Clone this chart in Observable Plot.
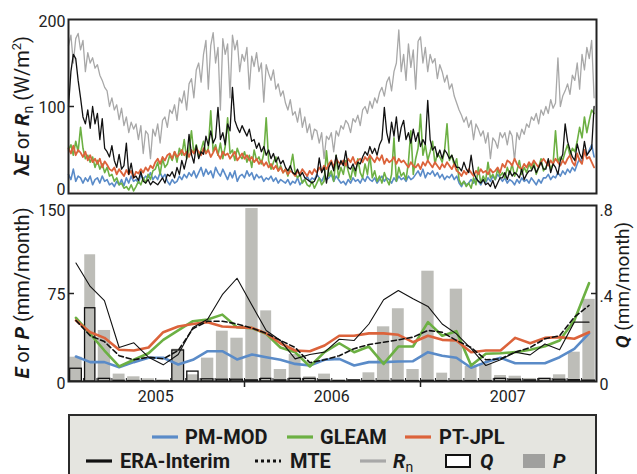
<!DOCTYPE html>
<html><head><meta charset="utf-8">
<script src="https://cdn.jsdelivr.net/npm/d3@7"></script>
<script src="https://cdn.jsdelivr.net/npm/@observablehq/plot@0.6"></script>
<style>
body{margin:0;background:#fff;}
#wrap{position:relative;width:637px;height:474px;overflow:hidden;font-family:Roboto,'Noto Sans',sans-serif;}
#wrap svg.chart{position:absolute;left:0;}
#legend{position:absolute;left:68px;top:414px;width:529px;height:80px;box-sizing:border-box;border:2px solid #2b2b2b;background:#e5e5e0;font-family:Roboto,'Noto Sans',sans-serif;font-weight:bold;font-size:20px;color:#1a1a1a;}
.item{position:absolute;height:24px;display:flex;align-items:center;white-space:nowrap;}
.it{font-style:italic;}
sub{font-size:14px;font-weight:normal;vertical-align:-4px;line-height:0;}
</style></head><body><div id="wrap"></div>
<script>
// ---------- top panel: 5-day series (W/m2), starting 2005-01-01 ----------
const rnDaily = [
170,182,150,178,184,165,176,140,162,150,156,144,148,136,130,122,118,100,
110,96,102,85,98,78,88,70,82,74,80,62,78,46,72,68,40,74,
66,80,58,84,88,76,96,92,102,84,110,104,118,96,126,132,110,142,
150,128,160,176,120,170,185,150,168,96,178,160,172,110,182,165,176,140,
160,152,168,120,158,146,162,140,150,105,148,138,130,142,120,126,112,118,
104,96,108,90,94,82,98,76,88,70,80,62,74,72,58,70,40,66,
62,70,48,72,66,78,74,84,80,70,86,82,90,78,96,100,92,106,
98,110,104,116,122,112,128,134,118,140,150,188,140,160,130,172,145,165,
120,175,180,150,168,140,160,150,155,132,148,140,128,136,120,126,112,104,
96,90,82,88,76,84,62,80,74,66,72,58,70,40,64,60,52,70,
64,70,56,72,66,38,70,62,74,68,80,76,88,84,92,80,96,90,
100,92,108,98,104,156,100,112,118,126,114,136,130,150,120,160,142,168,
155,176,110];
const eraDaily = [
100,140,160,155,130,110,88,80,96,75,100,80,92,62,86,52,48,42,
55,38,30,45,28,32,58,22,35,18,20,15,25,14,12,16,10,14,
12,10,14,18,12,22,20,25,18,30,22,38,28,40,68,45,35,55,
40,48,45,66,55,72,58,64,99,62,70,56,80,72,122,84,76,70,
78,72,66,74,60,62,52,58,48,54,44,50,40,46,36,42,34,38,
30,26,32,24,22,28,20,24,18,16,14,12,14,20,41,24,30,12,
30,36,26,44,28,38,32,49,30,28,34,26,36,34,42,48,44,54,
46,52,44,56,62,99,70,58,82,66,88,60,76,84,62,70,58,74,
60,70,54,62,56,107,62,50,54,42,50,40,50,46,40,44,36,30,
30,26,36,28,24,44,24,18,14,12,16,10,12,8,15,6,12,18,
18,24,16,26,20,24,22,18,28,16,22,26,26,32,24,30,36,28,
28,40,24,34,30,22,38,45,80,60,50,42,38,57,46,40,60,44,
48,52,100];
const ptjplDaily = [
52,46,55,44,50,47,42,48,38,44,36,40,34,40,30,37,33,28,
26,30,22,28,24,20,27,22,26,18,25,23,28,24,30,26,32,29,
36,40,34,42,38,44,46,40,48,42,45,50,44,48,42,50,46,52,
48,44,52,46,50,42,47,53,45,40,48,44,46,40,44,48,38,42,
46,40,44,38,42,36,40,34,38,32,36,30,34,28,32,26,30,24,
28,22,26,24,20,26,22,28,24,20,26,22,28,24,30,26,32,28,
34,38,30,40,36,34,38,32,40,36,42,34,38,40,36,42,38,44,
40,36,42,38,44,34,40,36,38,42,34,40,36,38,34,30,36,32,
30,34,28,36,32,38,34,30,36,32,28,34,30,36,32,28,34,26,
24,20,26,22,28,24,20,26,22,28,24,26,22,28,24,26,30,24,
34,30,38,36,32,40,34,30,28,34,30,36,32,38,34,30,36,40,
36,32,38,34,40,36,32,38,34,40,44,36,32,46,38,34,50,40,
42,36,30];
const pmmodDaily = [
22,16,28,14,20,18,12,18,14,20,10,16,18,12,20,14,16,10,
12,8,14,10,16,9,18,12,20,14,16,12,22,16,20,18,24,16,
20,16,24,18,22,14,10,16,12,14,20,16,22,18,24,20,26,18,
24,30,20,28,22,26,18,30,24,20,28,22,16,24,18,26,14,20,
22,18,26,20,24,16,22,18,20,14,18,16,20,14,18,12,16,14,
12,16,10,14,12,18,10,14,16,20,14,18,16,22,18,14,20,16,
18,22,14,20,16,12,14,10,16,12,18,14,16,12,18,14,20,16,
14,18,12,16,20,14,18,16,12,18,14,20,16,18,14,20,16,18,
22,26,20,28,18,24,22,26,20,24,18,22,16,20,18,22,16,20,
12,8,14,10,12,16,12,18,14,10,16,12,18,14,20,16,22,18,
14,18,12,16,14,10,16,12,18,14,16,12,18,14,10,16,12,18,
18,22,16,20,18,24,20,26,22,28,24,30,26,34,40,36,48,44,
50,56,42];
const gleamDaily = [
50,56,44,60,48,76,52,40,44,36,42,30,38,28,34,24,30,20,
22,14,18,10,12,6,8,4,10,3,8,14,10,18,12,22,16,26,
28,36,22,40,30,34,44,38,48,36,52,44,62,40,50,72,46,56,
42,50,60,46,52,95,48,56,44,58,40,54,87,46,50,38,52,44,
40,48,36,44,30,50,38,42,34,46,87,38,28,36,42,26,32,24,
28,20,30,45,24,18,22,12,16,10,8,14,6,12,18,10,14,49,
20,26,14,44,18,30,22,38,26,16,30,20,40,24,18,34,22,44,
18,26,14,20,12,24,16,10,22,64,14,30,20,24,16,36,72,22,
40,52,91,44,56,38,48,60,34,46,42,36,50,80,38,44,32,40,
16,10,14,8,12,6,18,10,30,12,20,14,36,18,22,16,28,20,
24,18,30,22,34,20,26,38,22,30,24,34,28,36,22,30,40,26,
30,38,28,34,72,36,42,38,48,56,44,52,48,60,76,64,88,70,
84,96,92];

// ---------- bottom panel: monthly (mm/month), Jan 2005 - Dec 2007 ----------
const precipP = [20.7,108,43.5,6.3,4,2.3,1.4,27.6,5.7,19.9,42.9,36.9,
  147.4,60.2,10.2,23,4,6.3,1.4,1.4,7.4,46.6,62,10.2,
  94,7.1,78.7,12.8,15,5.1,4.5,2.6,2.5,5.7,25,70];
const runoffQ = [0.058,0.333,0.012,0.003,0.002,0.001,0.001,0.141,0.045,0.010,0.008,0.008,
  0.005,0.012,0.005,0.012,0.012,0.005,0.002,0.005,0.002,0.002,0.003,0.002,
  0.003,0.002,0.002,0.002,0.002,0.012,0.008,0.005,0.012,0.008,0.006,0.004];
const pmmodM = [21.3,16.5,16.5,12.2,16.5,20.2,20.2,14.5,18.5,25.8,25.8,18.8,
  23,20.7,18.5,15,13.6,18.5,19.3,13.6,16.5,16.5,17,17.3,
  25,22,20.2,11.7,16.5,20.2,15.6,15.6,15.6,20.7,27.8,41];
const gleamM = [54.3,40.6,26.4,12.8,18.5,24.1,35.5,43.5,51.4,52.8,57,46.3,
  45.5,40.6,29,25,12.8,25,32.6,25,29.8,15,29.8,29.8,
  50.6,39,42.9,13.6,23.6,24.1,25,27,30,35,52,83.8];
const ptjplM = [52,42,37.2,27,26.4,29,42,46.9,49,50.6,46.9,46.3,
  45.7,41,32.6,26.4,25.8,30.7,39,39,41,41,39.8,33.5,
  39,35.5,35,25,26.4,26.4,37.2,32.6,37.2,37.8,36.4,42];
const eraM = [101,81,69,29,33,20.7,14.2,23,46,53,74,88,
  65,43.5,35,19.3,23,25,36,35,49,69.6,77.6,70.5,
  64,49,40.6,28,13.6,18.5,25,22.7,32,27,50.6,50.6];
const mteM = [52,39,34,22,18.5,20.7,19.3,26.4,45,51.4,51.4,49,
  45.5,41,35,29,16,18.5,22,28,31.5,33.5,35.5,37.8,
  43.5,42,35,29,18.5,19.3,25,29,36.4,39,54.8,64.8];
const yearLabels = [2005, 2006, 2007];
const topTicks = [0, 100, 200];
const botTicks = [0, 75, 150];

// ---------- build ----------
const C = {pm:"#5a8bc8", gl:"#6cb043", pt:"#dc633b", rn:"#a8a8a8", era:"#111", bar:"#bdbdb8"};
const FONT = "Roboto, 'Noto Sans', sans-serif";
const t0 = Date.UTC(2005,0,1);
const xDomain = [new Date(t0), new Date(Date.UTC(2008,0,1))];
const toDaily = arr => arr.map((v,i) => ({date: new Date(t0 + i*5*864e5), v}));
const monthly = d3.range(36).map(i => ({
  start: new Date(Date.UTC(2005,i,1)),
  end: new Date(Date.UTC(2005,i+1,1)),
  mid: new Date((Date.UTC(2005,i,1)+Date.UTC(2005,i+1,1))/2),
  P: precipP[i], Q: runoffQ[i], pm: pmmodM[i], gl: gleamM[i], pt: ptjplM[i], era: eraM[i], mte: mteM[i]
}));
const QK = 150/0.8;
const qFmt = d => { const q = d/QK; return q === 0 ? "0" : d3.format(".1f")(q).replace(/^0/, ""); };
const yLabels = (ticks, dys, opts={}) => ticks.map((t,k) =>
  Plot.axisY({ticks:[t], tickSize:0, tickPadding:3, label:null, fontSize:16, dy:dys[k], ...opts}));

const wrap = document.getElementById("wrap");

const topChart = Plot.plot({
  width: 637, height: 198,
  marginLeft: 68, marginRight: 41, marginTop: 19, marginBottom: 5,
  style: {fontFamily: FONT, fontSize: "16px", color: "#222", background: "transparent", overflow: "visible"},
  x: {type: "utc", domain: xDomain, axis: null, label: null},
  y: {domain: [0,200], axis: null, label: null},
  marks: [
    Plot.line(toDaily(rnDaily), {x:"date", y:"v", stroke:C.rn, strokeWidth:1.3}),
    Plot.line(toDaily(pmmodDaily), {x:"date", y:"v", stroke:C.pm, strokeWidth:1.6}),
    Plot.line(toDaily(gleamDaily), {x:"date", y:"v", stroke:C.gl, strokeWidth:1.6}),
    Plot.line(toDaily(ptjplDaily), {x:"date", y:"v", stroke:C.pt, strokeWidth:1.8}),
    Plot.line(toDaily(eraDaily), {x:"date", y:"v", stroke:C.era, strokeWidth:1.3}),
    ...yLabels(topTicks, [-4, 1, 2]),
    Plot.axisY({ticks:[100], tickSize:-6, tickFormat:()=>"", label:null, strokeWidth:1.5}),
    Plot.frame({stroke:"#222", strokeWidth:2})
  ]
});
topChart.classList.add("chart");
topChart.style.top = "0px";
wrap.appendChild(topChart);

const botChart = Plot.plot({
  width: 637, height: 214,
  marginLeft: 68, marginRight: 41, marginTop: 7, marginBottom: 31,
  style: {fontFamily: FONT, fontSize: "16px", color: "#222", background: "transparent", overflow: "visible"},
  x: {type: "utc", domain: xDomain, axis: null, label: null},
  y: {domain: [0,150], axis: null, label: null},
  marks: [
    Plot.rect(monthly, {x1:"start", x2:"end", y1:0, y2:"P", fill:C.bar, insetLeft:1.3, insetRight:1.3}),
    Plot.rect(monthly, {x1:"start", x2:"end", y1:0, y2:d=>d.Q*QK, fill:"none", stroke:"#111", strokeWidth:1.3, insetLeft:1.6, insetRight:1.6}),
    Plot.line(monthly, {x:"mid", y:"pm", stroke:C.pm, strokeWidth:2.6}),
    Plot.line(monthly, {x:"mid", y:"gl", stroke:C.gl, strokeWidth:2.6}),
    Plot.line(monthly, {x:"mid", y:"pt", stroke:C.pt, strokeWidth:2.6}),
    Plot.line(monthly, {x:"mid", y:"era", stroke:"#111", strokeWidth:1.1}),
    Plot.line(monthly, {x:"mid", y:"mte", stroke:"#111", strokeWidth:1.6, strokeDasharray:"5,3"}),
    ...yLabels(botTicks, [2, 1, 5]),
    Plot.axisY({ticks:[75], tickSize:-6, tickFormat:()=>"", label:null, strokeWidth:1.5}),
    ...yLabels(botTicks, [3, 3, 5], {anchor:"right", tickFormat:qFmt}),
    Plot.axisY({anchor:"right", ticks:[75], tickSize:-6, tickFormat:()=>"", label:null, strokeWidth:1.5}),
    Plot.axisX({ticks: yearLabels.map(y => new Date(Date.UTC(y,6,1))), tickSize:0, tickPadding:9, tickFormat:d3.utcFormat("%Y"), label:null, fontSize:16}),
    Plot.axisX({ticks: [new Date(Date.UTC(2006,0,1)), new Date(Date.UTC(2007,0,1))], tickSize:6, tickFormat:()=>"", label:null, strokeWidth:1.5}),
    Plot.axisX({ticks: monthly.map(d => d.start), tickSize:-3, tickFormat:()=>"", label:null}),
    Plot.frame({stroke:"#222", strokeWidth:2})
  ]
});
botChart.classList.add("chart");
botChart.style.top = "198px";
wrap.appendChild(botChart);

// rotated axis titles with rich text
function title(svg, x, y, parts, size=20) {
  const t = d3.select(svg).append("text")
    .attr("transform", `translate(${x},${y}) rotate(-90)`)
    .attr("text-anchor", "middle").attr("font-size", size).attr("fill", "#1a1a1a")
    .attr("font-family", FONT);
  parts.forEach(p => {
    const s = t.append("tspan").text(p.t);
    if (p.b) s.attr("font-weight", "bold");
    if (p.i) s.attr("font-style", "italic");
    if (p.fs) s.attr("font-size", p.fs);
    if (p.dy) s.attr("dy", p.dy);
  });
}
title(topChart, 29, 106, [
  {t:"λ", b:1}, {t:"E", b:1, i:1}, {t:" or "}, {t:"R", b:1, i:1},
  {t:"n", fs:14, dy:4}, {t:" (W/m", dy:-4}, {t:"2", fs:13, dy:-8}, {t:")", dy:8}
]);
title(botChart, 29, 95, [{t:"E", b:1, i:1}, {t:" or "}, {t:"P", b:1, i:1}, {t:" (mm/month)"}]);
title(botChart, 629, 87, [{t:"Q", b:1, i:1}, {t:" (mm/month)"}], 19);

// legend (positions in page pixels, as in the original)
const legend = document.createElement("div");
legend.id = "legend";
const line = (col, dash) => `<svg width="26" height="10"><line x1="0" y1="5" x2="26" y2="5" stroke="${col}" stroke-width="3.2" ${dash ? `stroke-dasharray="${dash}"` : ""}/></svg>`;
const boxQ = `<svg width="26" height="14"><rect x="1" y="1" width="24" height="12" fill="#fff" stroke="#111" stroke-width="2"/></svg>`;
const boxP = `<svg width="22" height="14"><rect x="0" y="0" width="22" height="14" fill="#a0a09e"/></svg>`;
const legendItems = [
  {cy:437, sx:152, gap:7, sw:line(C.pm), html:"PM-MOD"},
  {cy:437, sx:287, gap:7, sw:line(C.gl), html:"GLEAM"},
  {cy:437, sx:405, gap:8, sw:line(C.pt), html:"PT-JPL"},
  {cy:461, sx:86, gap:8, sw:line("#111"), html:"ERA-Interim"},
  {cy:461, sx:255, gap:9, sw:line("#111","3,3"), html:"MTE"},
  {cy:461, sx:360, gap:7, sw:line(C.rn), html:`<span class="it">R</span><sub>n</sub>`},
  {cy:461, sx:445, gap:9, sw:boxQ, html:`<span class="it">Q</span>`},
  {cy:461, sx:523, gap:8, sw:boxP, html:`<span class="it">P</span>`}
];
legendItems.forEach(d => {
  const el = document.createElement("div");
  el.className = "item";
  el.style.left = (d.sx - 70) + "px";
  el.style.top = (d.cy - 416 - 12) + "px";
  el.style.gap = d.gap + "px";
  el.innerHTML = d.sw + `<span>${d.html}</span>`;
  legend.appendChild(el);
});
wrap.appendChild(legend);
</script></body></html>
